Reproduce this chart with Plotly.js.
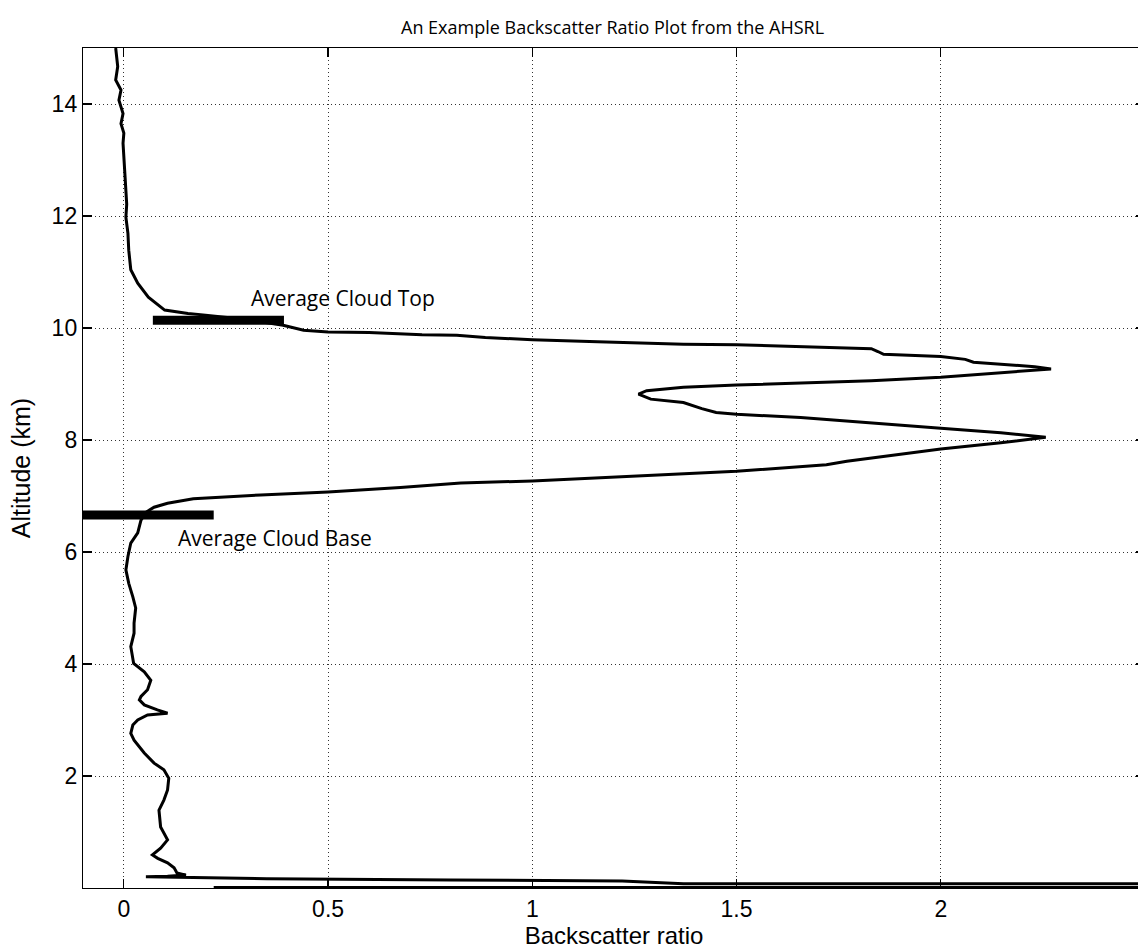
<!DOCTYPE html>
<html>
<head>
<meta charset="utf-8">
<script src="https://cdn.plot.ly/plotly-3.0.1.min.js"></script>
<style>
html, body { margin: 0; padding: 0; background: #fff; overflow: hidden; }
#chart { width: 1145px; height: 951px; }
</style>
</head>
<body>
<div id="chart"></div>
<script>
// Backscatter ratio profile (x) versus altitude in km (y), top to bottom
const ratio = [
  -0.02, -0.015, -0.02, -0.007, -0.012, -0.002, -0.007, 0, -0.002, 0,
  0.002, 0.005, 0.007, 0.005, 0.01, 0.012, 0.017, 0.034, 0.06, 0.1,
  0.157, 0.2, 0.3, 0.39, 0.44, 0.5, 0.6, 0.73, 0.815, 0.885,
  1.0, 1.16, 1.37, 1.5, 1.657, 1.83, 1.846, 1.86, 2.0, 2.06,
  2.08, 2.147, 2.23, 2.27, 2.147, 2.0, 1.83, 1.657, 1.5, 1.37,
  1.28, 1.26, 1.29, 1.37, 1.415, 1.45, 1.5, 1.657, 1.83, 2.0,
  2.147, 2.257, 2.147, 2.0, 1.77, 1.72, 1.5, 1.25, 1.0, 0.825,
  0.677, 0.5, 0.335, 0.17, 0.107, 0.074, 0.054, 0.042, 0.034, 0.017,
  0.01, 0.005, 0.012, 0.022, 0.029, 0.025, 0.025, 0.017, 0.024, 0.05,
  0.066, 0.058, 0.042, 0.038, 0.05, 0.082, 0.107, 0.058, 0.034, 0.022,
  0.017, 0.025, 0.05, 0.074, 0.098, 0.11, 0.107, 0.098, 0.086, 0.09,
  0.107, 0.09, 0.07, 0.083, 0.107, 0.123, 0.13, 0.152, 0.107, 0.054,
  0.15, 0.35, 0.8, 1.22, 1.37, 3.0, 3.0, 0.22
];
const altitude = [
  15.0, 14.67, 14.43, 14.25, 14.07, 13.83, 13.65, 13.48, 13.3, 13.05,
  12.76, 12.5, 12.21, 11.98, 11.69, 11.39, 11.04, 10.8, 10.55, 10.32,
  10.26, 10.23, 10.15, 10.05, 9.96, 9.93, 9.92, 9.88, 9.87, 9.83,
  9.79, 9.755, 9.71, 9.70, 9.67, 9.63, 9.58, 9.53, 9.49, 9.44,
  9.39, 9.35, 9.31, 9.27, 9.2, 9.12, 9.06, 9.02, 8.98, 8.94,
  8.88, 8.82, 8.73, 8.67, 8.56, 8.49, 8.46, 8.40, 8.31, 8.21,
  8.13, 8.05, 7.95, 7.84, 7.62, 7.56, 7.44, 7.36, 7.27, 7.23,
  7.15, 7.07, 7.02, 6.95, 6.87, 6.80, 6.71, 6.57, 6.34, 6.16,
  5.92, 5.68, 5.44, 5.2, 5.0, 4.73, 4.55, 4.31, 4.01, 3.86,
  3.71, 3.54, 3.42, 3.36, 3.27, 3.18, 3.12, 3.09, 3.0, 2.91,
  2.76, 2.64, 2.41, 2.23, 2.11, 1.96, 1.75, 1.57, 1.39, 1.09,
  0.86, 0.71, 0.59, 0.53, 0.45, 0.36, 0.27, 0.23, 0.21, 0.2,
  0.19, 0.165, 0.145, 0.125, 0.076, 0.076, 0.01, 0.01
];

// Average cloud top / base markers
const cloudTopX = [0.071, 0.392];
const cloudTopAlt = [10.14, 10.14];
const cloudBaseX = [-0.1, 0.22];
const cloudBaseAlt = [6.66, 6.66];

// Labels
const chartTitle = "An Example Backscatter Ratio Plot from the AHSRL";
const xLabel = "Backscatter ratio";
const yLabel = "Altitude (km)";
const xTickVals = [0, 0.5, 1, 1.5, 2];
const xTickText = ["0", "0.5", "1", "1.5", "2"];
const yTickVals = [2, 4, 6, 8, 10, 12, 14];
const yTickText = ["2", "4", "6", "8", "10", "12", "14"];
const cloudTopLabel = "Average Cloud Top";
const cloudBaseLabel = "Average Cloud Base";
const cloudTopLabelPos = [0.306, 10.54];
const cloudBaseLabelPos = [0.127, 6.25];

const traces = [
  { x: ratio, y: altitude, type: 'scatter', mode: 'lines',
    line: { color: '#000', width: 3 }, hoverinfo: 'skip' },
  { x: cloudTopX, y: cloudTopAlt, type: 'scatter', mode: 'lines',
    line: { color: '#000', width: 9 }, hoverinfo: 'skip' },
  { x: cloudBaseX, y: cloudBaseAlt, type: 'scatter', mode: 'lines',
    line: { color: '#000', width: 9 }, hoverinfo: 'skip' }
];

const sans = 'Liberation Sans, Arial, sans-serif';
const humanist = 'Open Sans, Noto Sans, sans-serif';

const layout = {
  width: 1145, height: 951,
  margin: { l: 83, r: 0, t: 48, b: 63 },
  paper_bgcolor: '#fff', plot_bgcolor: '#fff',
  showlegend: false,
  title: { text: chartTitle, x: 0.535, xanchor: 'center', y: 0.971, yanchor: 'middle',
           font: { family: humanist, size: 18, color: '#000' } },
  xaxis: {
    range: [-0.1, 2.5], tickvals: xTickVals, ticktext: xTickText,
    ticks: 'inside', ticklen: 9, tickwidth: 1.2, tickcolor: '#000',
    showline: true, linecolor: '#000', linewidth: 1.2, mirror: 'ticks',
    showgrid: true, gridcolor: '#333', gridwidth: 1, griddash: '1px,3px',
    zeroline: false,
    tickfont: { family: sans, size: 23, color: '#000' },
    title: { text: xLabel, font: { family: sans, size: 24, color: '#000' }, standoff: 5 }
  },
  yaxis: {
    range: [0, 15], tickvals: yTickVals, ticktext: yTickText,
    ticks: 'inside', ticklen: 9, tickwidth: 1.2, tickcolor: '#000',
    showline: true, linecolor: '#000', linewidth: 1.2, mirror: 'ticks',
    showgrid: true, gridcolor: '#333', gridwidth: 1, griddash: '1px,3px',
    zeroline: false,
    tickfont: { family: sans, size: 23, color: '#000' },
    title: { text: yLabel, font: { family: sans, size: 25, color: '#000' }, standoff: 13 }
  },
  annotations: [
    { x: cloudTopLabelPos[0], y: cloudTopLabelPos[1], xref: 'x', yref: 'y',
      text: cloudTopLabel, showarrow: false, xanchor: 'left', yanchor: 'middle',
      font: { family: humanist, size: 21, color: '#000' } },
    { x: cloudBaseLabelPos[0], y: cloudBaseLabelPos[1], xref: 'x', yref: 'y',
      text: cloudBaseLabel, showarrow: false, xanchor: 'left', yanchor: 'middle',
      font: { family: humanist, size: 21, color: '#000' } }
  ]
};

Plotly.newPlot('chart', traces, layout, { staticPlot: true, displayModeBar: false });
</script>
</body>
</html>
